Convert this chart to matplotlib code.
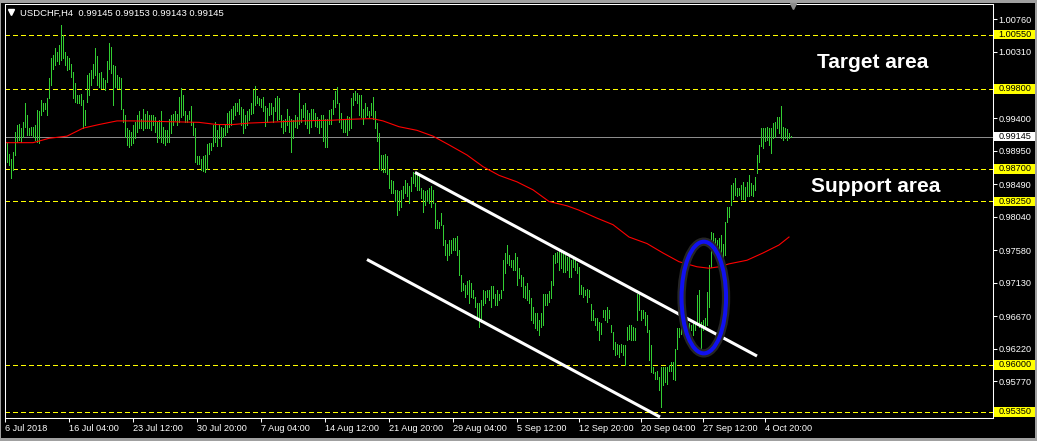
import matplotlib
matplotlib.use('Agg')
import matplotlib.pyplot as plt
import matplotlib.transforms as mtransforms
from matplotlib.patches import Ellipse, Rectangle
from matplotlib.lines import Line2D

plt.rcParams['font.family'] = ['Liberation Sans', 'DejaVu Sans']
plt.rcParams['lines.scale_dashes'] = False

# ---- data (USDCHF H4 bars, high / low) ----
symbol = 'USDCHF,H4'
last_ohlc = [0.99145, 0.99153, 0.99143, 0.99145]

highs = [
    0.9907,0.9905,0.9891,0.9884,0.9893,0.9921,0.9930,0.9932,0.9926,0.9935,
    0.9960,0.9944,0.9926,0.9928,0.9928,0.9930,0.9951,0.9949,0.9965,0.9960,
    0.9960,0.9967,0.9995,1.0022,1.0027,1.0036,1.0031,1.0041,1.0068,1.0054,
    1.0031,1.0025,1.0022,1.0015,1.0004,0.9988,0.9972,0.9972,0.9973,0.9965,
    0.9951,0.9999,1.0002,1.0006,1.0015,1.0036,1.0025,1.0002,1.0004,0.9995,
    0.9992,1.0018,1.0043,1.0038,1.0013,1.0011,0.9999,0.9997,0.9995,0.9953,
    0.9944,0.9926,0.9923,0.9921,0.9930,0.9935,0.9944,0.9949,0.9939,0.9953,
    0.9946,0.9949,0.9944,0.9944,0.9944,0.9942,0.9935,0.9937,0.9949,0.9928,
    0.9923,0.9923,0.9939,0.9944,0.9946,0.9949,0.9946,0.9969,0.9981,0.9972,
    0.9949,0.9944,0.9949,0.9956,0.9935,0.9926,0.9887,0.9887,
    0.9884,0.9887,0.9889,0.9904,0.9906,0.9906,0.9930,0.9935,0.9923,0.9930,
    0.9928,0.9926,0.9930,0.9947,0.9949,0.9953,0.9956,0.9960,0.9960,0.9966,
    0.9955,0.9953,0.9944,0.9949,0.9953,0.9960,0.9979,0.9984,0.9970,0.9967,
    0.9966,0.9969,0.9956,0.9954,0.9961,0.9960,0.9955,0.9967,0.9970,0.9968,
    0.9944,0.9937,0.9938,0.9952,0.9943,0.9938,0.9937,0.9944,0.9942,0.9975,
    0.9953,0.9958,0.9960,0.9951,0.9947,0.9953,0.9952,0.9947,0.9942,0.9939,
    0.9944,0.9944,0.9939,0.9939,0.9951,0.9953,0.9965,0.9977,0.9983,0.9961,
    0.9947,0.9939,0.9938,0.9943,0.9942,0.9968,0.9975,0.9977,0.9974,0.9972,
    0.9972,0.9953,0.9961,0.9955,0.9949,0.9961,0.9969,0.9949,0.9933,0.9920,
    0.9889,0.9889,0.9891,0.9887,0.9869,
    0.9855,0.9853,0.9841,0.9841,0.9839,0.9841,0.9846,0.9855,0.9850,0.9846,
    0.9859,0.9866,0.9866,0.9864,0.9862,0.9843,0.9841,0.9839,0.9841,0.9843,
    0.9846,0.9841,0.9823,0.9800,0.9797,0.9809,0.9793,0.9772,0.9767,0.9772,
    0.9772,0.9774,0.9774,0.9777,0.9758,0.9724,0.9712,0.9710,0.9715,0.9717,
    0.9712,0.9703,0.9694,0.9685,0.9685,0.9689,0.9703,0.9701,0.9703,0.9703,
    0.9708,0.9708,0.9698,0.9703,0.9698,0.9703,0.9744,0.9754,0.9765,0.9751,
    0.9744,0.9744,0.9754,0.9749,0.9733,0.9724,0.9721,0.9708,0.9712,0.9703,
    0.9692,0.9680,0.9671,0.9671,0.9662,0.9671,0.9698,0.9698,0.9698,0.9701,
    0.9715,0.9751,0.9754,0.9756,
    0.9758,0.9758,0.9756,0.9751,0.9749,0.9751,0.9744,0.9749,0.9749,0.9740,
    0.9735,0.9710,0.9707,0.9703,0.9705,0.9703,0.9684,0.9675,0.9664,0.9664,
    0.9659,0.9657,0.9675,0.9675,0.9679,0.9675,0.9655,0.9645,0.9631,0.9629,
    0.9627,0.9629,0.9627,0.9627,0.9652,0.9655,0.9655,0.9652,0.9650,0.9698,
    0.9700,0.9675,0.9675,0.9673,0.9668,0.9648,0.9627,0.9597,0.9590,0.9592,
    0.9583,0.9597,0.9597,0.9597,0.9597,0.9599,0.9604,0.9604,0.9622,0.9650,
    0.9650,0.9655,0.9666,0.9668,0.9661,0.9657,0.9655,0.9657,0.9659,0.9696,
    0.9703,0.9659,0.9661,0.9664,0.9700,0.9737,0.9783,0.9781,0.9774,0.9772,
    0.9774,0.9779,0.9767,0.9797,0.9818,0.9818,0.9848,0.9850,0.9857,0.9843,
    0.9843,0.9848,0.9852,0.9845,0.9852,0.9862,0.9850,0.9848,0.9859,0.9889,
    0.9903,0.9926,0.9926,0.9926,0.9927,0.9926,0.9926,0.9933,0.9935,0.9942,
    0.9942,0.9956,0.9928,0.9926,0.9925,0.9919,0.99153,
]

lows = [
    0.9893,0.9880,0.9875,0.9857,0.9868,0.9889,0.9907,0.9910,0.9907,0.9914,
    0.9928,0.9916,0.9916,0.9916,0.9914,0.9910,0.9907,0.9905,0.9944,0.9949,
    0.9953,0.9944,0.9967,0.9985,1.0008,1.0013,1.0018,1.0015,1.0020,1.0022,
    1.0013,1.0006,1.0008,0.9997,0.9967,0.9962,0.9960,0.9960,0.9958,0.9926,
    0.9930,0.9962,0.9972,0.9985,0.9995,0.9999,0.9985,0.9983,0.9981,0.9981,
    0.9978,0.9990,1.0008,1.0002,0.9958,0.9983,0.9981,0.9981,0.9953,0.9935,
    0.9914,0.9903,0.9900,0.9903,0.9905,0.9912,0.9921,0.9926,0.9926,0.9923,
    0.9926,0.9926,0.9926,0.9923,0.9930,0.9921,0.9907,0.9912,0.9907,0.9905,
    0.9903,0.9907,0.9907,0.9919,0.9930,0.9937,0.9930,0.9935,0.9942,0.9944,
    0.9935,0.9935,0.9939,0.9930,0.9916,0.9880,0.9877,0.9877,
    0.9868,0.9867,0.9866,0.9870,0.9891,0.9896,0.9902,0.9907,0.9901,0.9912,
    0.9902,0.9914,0.9916,0.9921,0.9928,0.9930,0.9938,0.9944,0.9949,0.9946,
    0.9930,0.9919,0.9926,0.9930,0.9937,0.9946,0.9947,0.9958,0.9960,0.9958,
    0.9955,0.9950,0.9929,0.9935,0.9944,0.9946,0.9935,0.9949,0.9937,0.9939,
    0.9928,0.9920,0.9922,0.9930,0.9921,0.9893,0.9912,0.9928,0.9926,0.9932,
    0.9935,0.9942,0.9932,0.9926,0.9920,0.9928,0.9937,0.9929,0.9928,0.9919,
    0.9928,0.9908,0.9900,0.9900,0.9932,0.9932,0.9946,0.9955,0.9960,0.9935,
    0.9926,0.9921,0.9921,0.9916,0.9923,0.9926,0.9958,0.9965,0.9961,0.9944,
    0.9942,0.9932,0.9942,0.9944,0.9942,0.9944,0.9939,0.9926,0.9909,0.9870,
    0.9868,0.9866,0.9866,0.9863,0.9843,
    0.9836,0.9836,0.9825,0.9807,0.9813,0.9818,0.9830,0.9836,0.9832,0.9823,
    0.9839,0.9850,0.9846,0.9841,0.9841,0.9830,0.9811,0.9820,0.9825,0.9823,
    0.9818,0.9823,0.9788,0.9788,0.9788,0.9793,0.9765,0.9751,0.9744,0.9751,
    0.9754,0.9758,0.9758,0.9751,0.9724,0.9701,0.9703,0.9694,0.9698,0.9685,
    0.9694,0.9692,0.9680,0.9664,0.9652,0.9659,0.9682,0.9685,0.9694,0.9689,
    0.9680,0.9692,0.9682,0.9682,0.9689,0.9692,0.9703,0.9726,0.9740,0.9738,
    0.9735,0.9731,0.9731,0.9710,0.9719,0.9708,0.9694,0.9692,0.9689,0.9685,
    0.9662,0.9657,0.9650,0.9648,0.9641,0.9652,0.9655,0.9682,0.9682,0.9687,
    0.9692,0.9710,0.9740,0.9742,
    0.9730,0.9733,0.9728,0.9728,0.9730,0.9721,0.9721,0.9735,0.9730,0.9726,
    0.9698,0.9698,0.9694,0.9696,0.9687,0.9694,0.9661,0.9661,0.9655,0.9648,
    0.9634,0.9643,0.9666,0.9661,0.9659,0.9664,0.9645,0.9622,0.9613,0.9615,
    0.9611,0.9618,0.9613,0.9599,0.9634,0.9636,0.9634,0.9634,0.9634,0.9661,
    0.9675,0.9661,0.9664,0.9655,0.9645,0.9606,0.9590,0.9588,0.9581,0.9581,
    0.9565,0.9542,0.9572,0.9576,0.9574,0.9592,0.9592,0.9581,0.9579,0.9622,
    0.9638,0.9643,0.9648,0.9652,0.9638,0.9643,0.9648,0.9641,0.9648,0.9655,
    0.9652,0.9622,0.9648,0.9652,0.9655,0.9680,0.9735,0.9763,0.9760,0.9756,
    0.9749,0.9742,0.9747,0.9751,0.9797,0.9804,0.9820,0.9829,0.9834,0.9832,
    0.9834,0.9829,0.9829,0.9827,0.9832,0.9832,0.9834,0.9832,0.9841,0.9864,
    0.9880,0.9901,0.9898,0.9908,0.9910,0.9903,0.9892,0.9912,0.9914,0.9926,
    0.9919,0.9912,0.9910,0.9912,0.9910,0.9912,0.99143,
]

# moving average (red line), sampled along the chart
ma_idx = [0, 14, 22, 31, 39, 47, 56, 64, 81, 97, 106, 114, 122, 131, 147, 164,
          170, 181, 184, 189, 197, 206, 214, 222, 231, 239, 247, 256, 264, 272,
          281, 287, 296, 304, 312, 321, 329, 337, 346, 352, 357, 362, 371, 379,
          387, 392]
ma_val = [0.9906, 0.9906, 0.9912, 0.9915, 0.9926, 0.9931, 0.9936, 0.9936,
          0.9935, 0.9934, 0.9931, 0.9931, 0.9933, 0.9934, 0.9936, 0.9937,
          0.9938, 0.9939, 0.9939, 0.9936, 0.9928, 0.9923, 0.9915, 0.9903,
          0.9889, 0.9873, 0.9861, 0.9852, 0.9841, 0.9825, 0.9819, 0.9813,
          0.9802, 0.9793, 0.9776, 0.9767, 0.9754, 0.9742, 0.9735, 0.9733,
          0.9735, 0.9739, 0.9744, 0.9754, 0.9765, 0.9776]

channel_upper_x = [205, 376]
channel_upper_y = [0.9865, 0.9612]
channel_lower_x = [181, 327.5]
channel_lower_y = [0.9745, 0.9528]

levels = [1.00550, 0.99800, 0.98700, 0.98250, 0.96000, 0.95350]
bid = 0.99145

price_ticks = [1.00760, 1.00310, 0.99400, 0.98950, 0.98490, 0.98040,
               0.97580, 0.97130, 0.96670, 0.96220, 0.95770]
date_idx = [0, 32, 64, 96, 128, 160, 192, 224, 256, 287, 318, 349, 380]
date_labels = ['6 Jul 2018', '16 Jul 04:00', '23 Jul 12:00', '30 Jul 20:00',
               '7 Aug 04:00', '14 Aug 12:00', '21 Aug 20:00', '29 Aug 04:00',
               '5 Sep 12:00', '12 Sep 20:00', '20 Sep 04:00', '27 Sep 12:00',
               '4 Oct 20:00']

W, H = 1037, 441
fig = plt.figure(figsize=(W/100, H/100), dpi=100, facecolor='black')
ax = fig.add_axes([5/W, 23/H, 988/W, 414/H])
ax.set_facecolor('black')

n = len(highs)
ax.vlines(range(n), lows, highs, colors='#32cd32', linewidth=0.55,
          antialiased=False, zorder=2)
ax.plot(ma_idx, ma_val, color='#ff0000', lw=0.8, zorder=2.2)

ax.axhline(bid, color='#8c8c8c', lw=0.55, antialiased=False, zorder=1.5)
for lv in levels:
    ax.axhline(lv, color='#ffff00', lw=0.8, ls=(0, (2.9, 2.2)),
               antialiased=False, zorder=1.6)

ax.plot(channel_upper_x, channel_upper_y, color='white', lw=2.2,
        solid_capstyle='butt', zorder=3)
ax.plot(channel_lower_x, channel_lower_y, color='white', lw=2.2,
        solid_capstyle='butt', zorder=3)

shadow = Ellipse((349.4, 0.96926), 22.25, 0.01539, fill=False,
                 edgecolor='#262626', lw=6, zorder=3.4)
ax.add_patch(shadow)
ell = Ellipse((349.4, 0.96926), 22.25, 0.01539, fill=False,
              edgecolor='#1010f0', lw=2.9, zorder=3.5)
ax.add_patch(ell)

ax.text(406, 1.00085, 'Target area', color='white', fontsize=15,
        fontweight='bold', va='baseline', zorder=4)
ax.text(403, 0.98380, 'Support area', color='white', fontsize=15,
        fontweight='bold', va='baseline', zorder=4)

ax.set_xlim(0, 494)
ax.set_ylim(0.95266, 1.00971)

for s in ax.spines.values():
    s.set_color('white')
    s.set_linewidth(0.75)

ax.yaxis.tick_right()
ax.set_yticks(price_ticks)
ax.set_yticklabels(['%.5f' % v for v in price_ticks])
ax.tick_params(axis='y', colors='white', labelsize=6.6, length=3,
               width=0.75, pad=1.2)
ax.set_xticks(date_idx)
ax.set_xticklabels(date_labels)
ax.tick_params(axis='x', colors='white', labelsize=6.6, length=3,
               width=0.75, pad=1.2)
for lab in ax.get_xticklabels():
    lab.set_ha('left')

blend = mtransforms.blended_transform_factory(ax.transAxes, ax.transData)
bh = 0.00135
for lv in levels:
    ax.add_patch(Rectangle((1.001, lv - bh/2), 0.0415, bh, transform=blend,
                           facecolor='#ffff00', edgecolor='none',
                           clip_on=False, zorder=6))
    ax.text(1.0055, lv, '%.5f' % lv, transform=blend, color='black',
            fontsize=6.6, va='center', clip_on=False, zorder=7)
ax.add_patch(Rectangle((1.001, bid - bh/2), 0.0415, bh, transform=blend,
                       facecolor='white', edgecolor='none',
                       clip_on=False, zorder=6))
ax.text(1.0055, bid, '%.5f' % bid, transform=blend, color='black',
        fontsize=6.6, va='center', clip_on=False, zorder=7)

header = '%s  %.5f %.5f %.5f %.5f' % (symbol, *last_ohlc)
fig.text(20/W, 1 - 16/H, header, color='white', fontsize=6.8, va='baseline')
fig.add_artist(Line2D([11/W], [1 - 12/H], marker='v', color='white',
                      markersize=4, transform=fig.transFigure))
fig.add_artist(Line2D([793/W], [1 - 6/H], marker='v', color='#8c8c8c',
                      markersize=5, transform=fig.transFigure))

# window border
for r in [(0, 1 - 3/H, 1, 3/H), (0, 0, 1, 3/H), (0, 0, 1/W, 1),
          (1 - 2/W, 0, 2/W, 1)]:
    fig.add_artist(Rectangle(r[:2], r[2], r[3], transform=fig.transFigure,
                             facecolor='#a0a0a0', edgecolor='none'))

fig.savefig('out.png', dpi=100, facecolor='black')
